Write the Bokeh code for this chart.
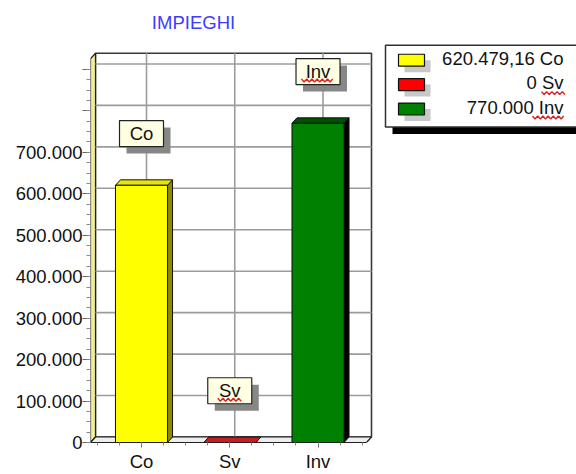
import numpy as np
from bokeh.plotting import figure
from bokeh.models import Range1d, FixedTicker
from bokeh.core.properties import value
from bokeh.embed import file_html
from bokeh.resources import INLINE

# ---------------- data ----------------
categories = ["Co", "Sv", "Inv"]
values = [620479.16, 0.0, 770000.0]
spell_flagged = ["Sv", "Inv"]
y_ticks = [0, 100000, 200000, 300000, 400000, 500000, 600000, 700000, 800000, 900000]
y_labelled = [0, 100000, 200000, 300000, 400000, 500000, 600000, 700000]
title_text = "IMPIEGHI"

# ---------------- styles ----------------
face_colors = ["#FFFF00", "#FF0000", "#008000"]
side_colors = ["#8C8C00", "#8C0000", "#000000"]
top_colors = ["#E6E600", "#C81E1E", "#005000"]
FONT = value("Liberation Sans")
FS = "18.5px"


def it_fmt(v):
    s = f"{v:,.2f}".replace(",", "X").replace(".", ",").replace("X", ".")
    if s.endswith(",00"):
        s = s[:-3]
    return s


# ---------------- geometry (pixels -> data) ----------------
W, H = 576, 474
FL, FB = 90, 444          # frame left / bottom in px
XS = 88.25                # px per category
YS = 0.0004164            # px per value unit
X0 = -0.578
x_end = X0 + (W - FL) / XS
y_end = FB / YS


def px_x(px):
    return X0 + (px - FL) / XS


def px_y(py):
    return (FB - py) / YS


def squiggle(x_left, y_mid, width_px, step=2.6, amp=1.5):
    """zig-zag underline starting at data x_left, data y_mid, width in px"""
    n = int(width_px / step)
    sx = x_left + np.arange(n + 1) * step / XS
    sy = y_mid + np.where(np.arange(n + 1) % 2 == 0, amp, -amp) / YS
    return list(sx), list(sy)


X1 = px_x(366)
YTOP = px_y(58.5)
DX = 5 / XS
DY = 5.5 / YS
BW = 0.59

p = figure(width=W, height=H, x_range=Range1d(X0, x_end), y_range=Range1d(0, y_end),
           output_backend="svg", toolbar_location=None,
           min_border_left=FL, min_border_right=0, min_border_top=0, min_border_bottom=H - FB)
p.outline_line_color = None
p.xgrid.visible = False
p.ygrid.visible = False
p.background_fill_color = "white"
p.border_fill_color = "white"

# ---------------- 3D box ----------------
p.quad(left=X0 + DX, right=X1 + DX, bottom=DY, top=YTOP + DY,
       fill_color="white", line_color="#383838", line_width=1.6)
p.patch([X0, X0 + DX, X0 + DX, X0], [0, DY, YTOP + DY, YTOP],
        fill_color="#F0EE96", line_color="#202020", line_width=1.2)
p.patch([X0, X1, X1 + DX, X0 + DX], [0, 0, DY, DY],
        fill_color="#EEEEEE", line_color="#202020", line_width=1.2)

# grid lines on back wall
gy = [t + DY for t in y_ticks[1:]]
p.segment(x0=[X0 + DX] * len(gy), y0=gy, x1=[X1 + DX] * len(gy), y1=gy,
          line_color="#9C9C9C", line_width=1.6)
xs = np.arange(len(categories))
p.segment(x0=xs + DX, y0=[DY] * len(xs), x1=xs + DX, y1=[YTOP + DY] * len(xs),
          line_color="#9C9C9C", line_width=1.6)

# ---------------- bars ----------------
vals = np.array(values)
side_x, side_y, top_x, top_y = [], [], [], []
for i, v in zip(xs, vals):
    r, l = i + BW / 2, i - BW / 2
    side_x.append([r, r + DX, r + DX, r])
    side_y.append([0, DY, v + DY, v])
    top_x.append([l, l + DX, r + DX, r])
    top_y.append([v, v + DY, v + DY, v])
p.patches(side_x, side_y, fill_color=side_colors, line_color="#111111", line_width=1)
p.patches(top_x, top_y, fill_color=top_colors, line_color="#111111", line_width=1)
p.quad(left=xs - BW / 2, right=xs + BW / 2, bottom=0, top=vals,
       fill_color=face_colors, line_color="#111111", line_width=1)

# ---------------- bar labels ----------------
LABEL_DY = 52 / YS
ly = vals + LABEL_DY
p.rect(x=xs + 7 / XS, y=ly - 7 / YS, width=44, height=26, width_units="screen",
       height_units="screen", fill_color="#878787", line_color=None)
p.rect(x=xs, y=ly, width=44, height=26, width_units="screen", height_units="screen",
       fill_color="#FFFFE4", line_color="#222222", line_width=1.2)
p.text(x=xs, y=ly, text=categories, text_align="center", text_baseline="middle",
       text_font=FONT, text_font_size=FS, text_color="#111111")

# ---------------- title ----------------
p.text(x=[px_x(193)], y=[px_y(22)], text=[title_text], text_align="center",
       text_baseline="middle", text_font=FONT, text_font_size=FS, text_color="#3C3CFF")

# ---------------- legend ----------------
p.quad(left=px_x(392), right=px_x(620), top=px_y(52), bottom=px_y(134),
       fill_color="black", line_color=None)
p.quad(left=px_x(385), right=px_x(610), top=px_y(45), bottom=px_y(127),
       fill_color="white", line_color="#303030", line_width=1.5)
rows = [60 + 24.5 * i for i in range(len(categories))]
p.quad(left=[px_x(404)] * 3, right=[px_x(430)] * 3,
       top=[px_y(r) for r in rows], bottom=[px_y(r + 12) for r in rows],
       fill_color="#C8C8C8", line_color=None)
p.quad(left=[px_x(398)] * 3, right=[px_x(424)] * 3,
       top=[px_y(r - 6) for r in rows], bottom=[px_y(r + 6) for r in rows],
       fill_color=face_colors, line_color="#111111", line_width=1.2)
leg_text = [f"{it_fmt(v)} {c}" for v, c in zip(values, categories)]
p.text(x=[px_x(563)] * 3, y=[px_y(r - 2) for r in rows], text=leg_text,
       text_align="right", text_baseline="middle", text_font=FONT,
       text_font_size=FS, text_color="#111111")

# ---------------- red spell-check squiggles ----------------
sq_x, sq_y = [], []
for i, c in enumerate(categories):
    if c in spell_flagged:
        wpx = 9 * len(c) + 6
        # under bar-label box text
        a, b = squiggle(xs[i] - (wpx / 2) / XS, ly[i] - 9 / YS, wpx)
        sq_x.append(a); sq_y.append(b)
        # under legend text (right aligned at 563 px)
        a, b = squiggle(px_x(565 - wpx), px_y(rows[i] + 8.5), wpx)
        sq_x.append(a); sq_y.append(b)
p.multi_line(sq_x, sq_y, line_color="#E02020", line_width=1.4)

# ---------------- axes ----------------
xa = p.xaxis[0]
xa.ticker = FixedTicker(ticks=list(range(len(categories))),
                        minor_ticks=list(np.arange(-0.5, 2.51, 0.25)))
xa.major_label_overrides = {i: c for i, c in enumerate(categories)}
xa.bounds = (X0, X1)
xa.axis_line_color = "#202020"
xa.major_tick_out = 5
xa.major_tick_in = 0
xa.minor_tick_out = 3
xa.minor_tick_in = 0
xa.major_tick_line_color = "#666666"
xa.minor_tick_line_color = "#888888"
xa.major_label_standoff = 3
xa.major_label_text_font = "Liberation Sans"
xa.major_label_text_font_size = FS
xa.major_label_text_color = "#111111"

ya = p.yaxis[0]
ya.ticker = FixedTicker(ticks=y_ticks, minor_ticks=list(range(0, 900001, 25000)))
ya.major_label_overrides = {t: (it_fmt(t) if t in y_labelled else "") for t in y_ticks}
ya.bounds = (0, YTOP)
ya.axis_line_color = None
ya.major_tick_out = 8
ya.major_tick_in = 0
ya.minor_tick_out = 4
ya.minor_tick_in = 0
ya.major_tick_line_color = "#666666"
ya.minor_tick_line_color = "#888888"
ya.major_label_standoff = 0
ya.major_label_text_font = "Liberation Sans"
ya.major_label_text_font_size = FS
ya.major_label_text_color = "#111111"

open("out.html", "w").write(file_html(p, INLINE))
